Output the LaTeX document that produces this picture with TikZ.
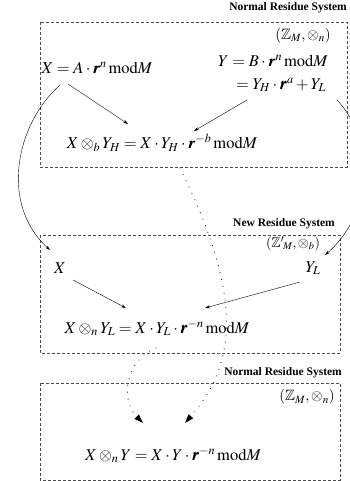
\documentclass[tikz,border=0pt]{standalone}
\usepackage{amsmath,amssymb}
\usepackage{mathptmx}
\usepackage{bm}
\usepackage{fontspec}
\setmainfont{Liberation Serif}
\usetikzlibrary{arrows.meta}
\newcommand{\rr}{\bm{r}}
\newcommand{\modd}{\,\mathrm{mod}M}
\begin{document}
\begin{tikzpicture}[x=1pt,y=-1pt,
  boxst/.style={draw=black!70,dash pattern=on 3pt off 2pt,line width=0.5pt},
  ttl/.style={font=\fontsize{11.5}{13}\selectfont\bfseries,anchor=east,inner sep=0pt},
  eq/.style={font=\fontsize{16.5}{18}\selectfont,inner sep=0pt},
  sm/.style={font=\fontsize{15}{17}\selectfont,inner sep=0pt},
  arr/.style={-{Stealth[length=5pt,width=3pt]},line width=0.4pt},
  dotarr/.style={line width=1.1pt,dash pattern=on 0.01pt off 7pt,line cap=round,-{Triangle[length=9pt,width=6pt]}}]
\useasboundingbox (0,0) rectangle (350,481);
% boxes
\draw[boxst] (40,22) rectangle (347,167);
\draw[boxst] (40,235) rectangle (340,353);
\draw[boxst] (40,383) rectangle (340,480);
% titles
\node[ttl] (t1) at (347,8) {Normal Residue System};
\node[ttl] (t2) at (335,224) {New Residue System};
\node[ttl] (t3) at (342,373) {Normal Residue System};
% box 1
\node[sm] (g1) at (303,36) {$(\mathbb{Z}_M,\otimes_n)$};
\node[eq] (Y) at (273,61) {$Y = B\cdot\rr^n\modd$};
\node[eq] (YH) at (281,85) {$=Y_H\cdot\rr^a+Y_L$};
\node[eq] (X1) at (97,68) {$X = A\cdot\rr^n\modd$};
\node[eq] (P1) at (162,143) {$X\otimes_b Y_H = X\cdot Y_H\cdot\rr^{-b}\modd$};
\coordinate (a1s) at (68,84); \coordinate (a1e) at (128,124);
\coordinate (a2s) at (247,100); \coordinate (a2e) at (194,131);
\draw[arr] (a1s) -- (a1e);
\draw[arr] (a2s) -- (a2e);
% box 2
\node[sm,font=\fontsize{14}{16}\selectfont] (g2) at (293,244) {$(\mathbb{Z}^{\prime}{}_{\!M},\otimes_b)$};
\node[eq] (X2) at (60,268) {$X$};
\node[eq] (YL) at (313,268) {$Y_L$};
\node[eq] (P2) at (157,328) {$X\otimes_n Y_L = X\cdot Y_L\cdot\rr^{-n}\modd$};
\coordinate (b1s) at (73,280); \coordinate (b1e) at (126,308);
\coordinate (b2s) at (300,282); \coordinate (b2e) at (205,308);
\draw[arr] (b1s) -- (b1e);
\draw[arr] (b2s) -- (b2e);
% box 3
\node[sm] (g3) at (307,397) {$(\mathbb{Z}_M,\otimes_n)$};
\node[eq] (P3) at (173,455) {$X\otimes_n Y = X\cdot Y\cdot\rr^{-n}\modd$};
% big curves
\coordinate (c1s) at (60,85); \coordinate (c1e) at (50,250);
\coordinate (c2s) at (337,100); \coordinate (c2e) at (325,255);
\draw[arr] (c1s) .. controls (15,125) and (0,205) .. (c1e);
\draw[arr] (c2s) .. controls (375,140) and (372,215) .. (c2e);
% dotted curves
\coordinate (d1s) at (180,168); \coordinate (d1e) at (185,423);
\coordinate (d2s) at (156,348); \coordinate (d2e) at (143,423);
\draw[dotarr] (d1s) .. controls (240,290) and (240,360) .. (d1e);
\draw[dotarr] (d2s) .. controls (125,360) and (120,400) .. (d2e);
\end{tikzpicture}
\end{document}
